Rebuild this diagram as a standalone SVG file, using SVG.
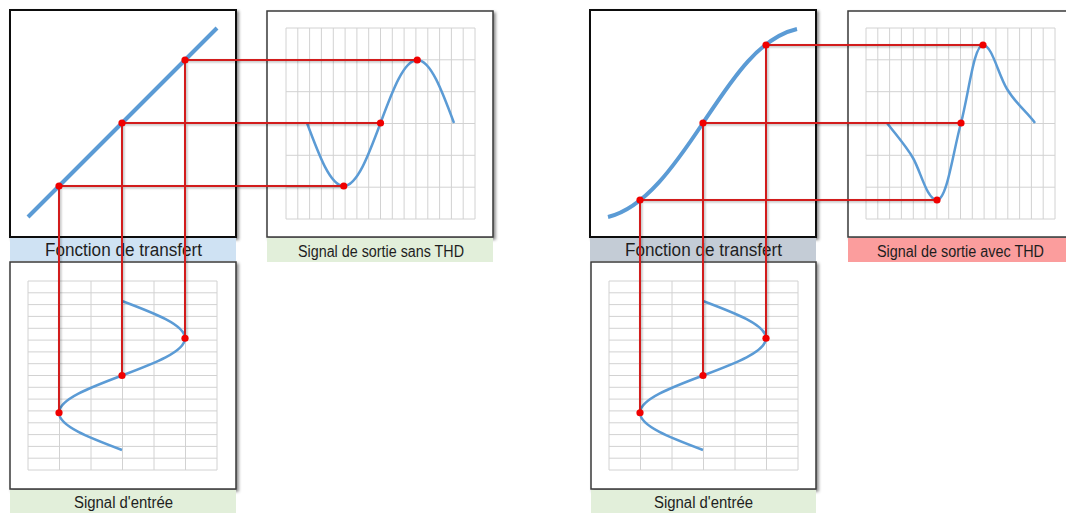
<svg xmlns="http://www.w3.org/2000/svg" width="1066" height="513" viewBox="0 0 1066 513">
<defs>
<filter id="sh" x="-10%" y="-10%" width="125%" height="125%"><feDropShadow dx="2" dy="2" stdDeviation="1.8" flood-color="#000" flood-opacity="0.45"/></filter>
<filter id="lsh" x="-5%" y="-5%" width="110%" height="110%"><feDropShadow dx="1.2" dy="1.2" stdDeviation="0.8" flood-color="#000" flood-opacity="0.3"/></filter>
<style>
.tbox{fill:#fff;stroke:#111;stroke-width:2;filter:url(#sh)}
.sbox{fill:#fff;stroke:#3a3a3a;stroke-width:1.5;filter:url(#sh)}
.grid{fill:none;stroke:#d2d2d2;stroke-width:1}
.tf{fill:none;stroke:#5b9bd5;stroke-width:4;stroke-linecap:butt}
.sig{fill:none;stroke:#5b9bd5;stroke-width:2.5}
.lbl{font-family:"Liberation Sans",Arial,sans-serif;fill:#1e1e1e;text-anchor:middle}
.big{font-size:18px}
.small{font-size:16px}
.blue{fill:#cfe2f3}
.green{fill:#e2efda}
.grey{fill:#c4ccd6}
.pink{fill:#fb9d9d}
.red{stroke:#d21e1e;stroke-width:2;fill:none}
.dot{fill:#f00000}
</style>
</defs>

<g id="transfer-left">
<rect class="tbox" x="10" y="10" width="226" height="227"/>
<path class="tf" d="M28,217 L217,28"/>
<rect class="blue" x="10" y="238" width="226" height="23"/>
<text class="lbl big" x="123.5" y="256" textLength="157" lengthAdjust="spacingAndGlyphs">Fonction de transfert</text>
</g>

<g id="output-left">
<rect class="sbox" x="267" y="11" width="226" height="226"/>
<path class="grid" d="M286,28V219M297.8,28V219M309.6,28V219M321.4,28V219M333.3,28V219M345.1,28V219M356.9,28V219M368.7,28V219M380.5,28V219M392.3,28V219M404.1,28V219M415.9,28V219M427.8,28V219M439.6,28V219M451.4,28V219M463.2,28V219M475,28V219M286,28H475M286,59.8H475M286,91.7H475M286,123.5H475M286,155.3H475M286,187.2H475M286,219H475"/>
<path class="sig" d="M307,123 C318.99,155.27 330.45,186 343.75,186 C357.05,186 368.51,155.27 380.5,123 C392.49,90.73 403.95,60 417.25,60 C430.55,60 442.01,90.73 454,123"/>
<rect class="green" x="267" y="238" width="226" height="24"/>
<text class="lbl small" x="381" y="257" textLength="166" lengthAdjust="spacingAndGlyphs">Signal de sortie sans THD</text>
</g>

<g id="input-left">
<rect class="sbox" x="10" y="262" width="226" height="227"/>
<path class="grid" d="M28,281V470M59.5,281V470M91,281V470M122.5,281V470M154,281V470M185.5,281V470M217,281V470M28,281H217M28,292.8H217M28,304.6H217M28,316.4H217M28,328.3H217M28,340.1H217M28,351.9H217M28,363.7H217M28,375.5H217M28,387.3H217M28,399.1H217M28,410.9H217M28,422.8H217M28,434.6H217M28,446.4H217M28,458.2H217M28,470H217"/>
<path class="sig" d="M122,301 C154.27,313.15 185,324.77 185,338.25 C185,351.73 154.27,363.35 122,375.5 C89.73,387.65 59,399.27 59,412.75 C59,426.23 89.73,437.85 122,450"/>
<rect class="green" x="10" y="490" width="226" height="23"/>
<text class="lbl small" x="123.5" y="508" textLength="99" lengthAdjust="spacingAndGlyphs">Signal d'entrée</text>
</g>

<g id="transfer-right">
<rect class="tbox" x="590" y="10" width="226" height="227"/>
<path class="tf" d="M608,217 C645,208 675,165 703,123 C731,81 758,38 797,29"/>
<rect class="grey" x="590" y="238" width="226" height="23"/>
<text class="lbl big" x="703.5" y="256" textLength="157" lengthAdjust="spacingAndGlyphs">Fonction de transfert</text>
</g>

<g id="output-right">
<rect class="sbox" x="848" y="11" width="226" height="226"/>
<path class="grid" d="M866,28V219M877.8,28V219M889.6,28V219M901.4,28V219M913.3,28V219M925.1,28V219M936.9,28V219M948.7,28V219M960.5,28V219M972.3,28V219M984.1,28V219M995.9,28V219M1007.8,28V219M1019.6,28V219M1031.4,28V219M1043.2,28V219M1055,28V219M866,28H1055M866,59.8H1055M866,91.7H1055M866,123.5H1055M866,155.3H1055M866,187.2H1055M866,219H1055"/>
<path class="sig" d="M887,123 C897,136 906,146 913,158 C921,172 927,200 937,200 C947,200 953,152 961,123 C969,92 974,45 983,45 C992,45 998,74 1007,89 C1016,104 1027,112 1035,123"/>
<rect class="pink" x="848" y="238" width="226" height="24"/>
<text class="lbl small" x="960.5" y="257" textLength="167" lengthAdjust="spacingAndGlyphs">Signal de sortie avec THD</text>
</g>

<g id="input-right">
<rect class="sbox" x="591" y="262" width="225" height="227"/>
<path class="grid" transform="translate(581,0)" d="M28,281V470M59.5,281V470M91,281V470M122.5,281V470M154,281V470M185.5,281V470M217,281V470M28,281H217M28,292.8H217M28,304.6H217M28,316.4H217M28,328.3H217M28,340.1H217M28,351.9H217M28,363.7H217M28,375.5H217M28,387.3H217M28,399.1H217M28,410.9H217M28,422.8H217M28,434.6H217M28,446.4H217M28,458.2H217M28,470H217"/>
<path class="sig" transform="translate(581,0)" d="M122,301 C154.27,313.15 185,324.77 185,338.25 C185,351.73 154.27,363.35 122,375.5 C89.73,387.65 59,399.27 59,412.75 C59,426.23 89.73,437.85 122,450"/>
<rect class="green" x="591" y="490" width="225" height="23"/>
<text class="lbl small" x="703.5" y="508" textLength="99" lengthAdjust="spacingAndGlyphs">Signal d'entrée</text>
</g>

<g id="connectors">
<g filter="url(#lsh)">
<path class="red" d="M59,186V412.75M122,123V375.5M185,60V338.25M59,186H343.75M122,123H380.5M185,60H417.25"/>
<path class="red" d="M640,200V412.75M703,123V375.5M766,45V338.25M640,200H937M703,123H961M766,45H983"/>
</g>
<g class="dots">
<circle class="dot" cx="59" cy="186" r="3.6"/>
<circle class="dot" cx="122" cy="123" r="3.6"/>
<circle class="dot" cx="185" cy="60" r="3.6"/>
<circle class="dot" cx="343.75" cy="186" r="3.6"/>
<circle class="dot" cx="380.5" cy="123" r="3.6"/>
<circle class="dot" cx="417.25" cy="60" r="3.6"/>
<circle class="dot" cx="185" cy="338.25" r="3.6"/>
<circle class="dot" cx="122" cy="375.5" r="3.6"/>
<circle class="dot" cx="59" cy="412.75" r="3.6"/>
<circle class="dot" cx="640" cy="200" r="3.6"/>
<circle class="dot" cx="703" cy="123" r="3.6"/>
<circle class="dot" cx="766" cy="45" r="3.6"/>
<circle class="dot" cx="937" cy="200" r="3.6"/>
<circle class="dot" cx="961" cy="123" r="3.6"/>
<circle class="dot" cx="983" cy="45" r="3.6"/>
<circle class="dot" cx="766" cy="338.25" r="3.6"/>
<circle class="dot" cx="703" cy="375.5" r="3.6"/>
<circle class="dot" cx="640" cy="412.75" r="3.6"/>
</g>
</g>
</svg>
